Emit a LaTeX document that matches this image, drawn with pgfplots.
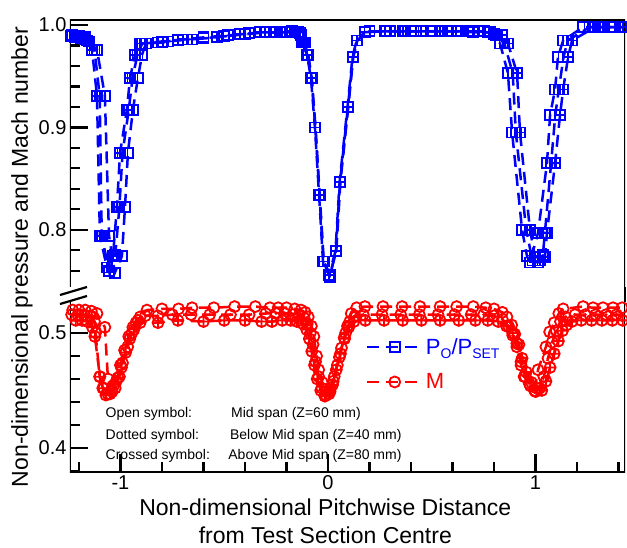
\documentclass[border=0pt]{standalone}
\usepackage{fontspec}
\setmainfont{Liberation Sans}
\usepackage{pgfplots}
\pgfplotsset{compat=1.18}

\pgfdeclareplotmark{boxplus}{%
 \pgfpathrectangle{\pgfpoint{-\pgfplotmarksize}{-\pgfplotmarksize}}{\pgfpoint{2\pgfplotmarksize}{2\pgfplotmarksize}}%
 \pgfpathmoveto{\pgfpoint{-\pgfplotmarksize}{0pt}}\pgfpathlineto{\pgfpoint{\pgfplotmarksize}{0pt}}%
 \pgfpathmoveto{\pgfpoint{0pt}{-\pgfplotmarksize}}\pgfpathlineto{\pgfpoint{0pt}{\pgfplotmarksize}}%
 \pgfusepathqstroke}
\pgfdeclareplotmark{boxdot}{%
 \pgfpathrectangle{\pgfpoint{-\pgfplotmarksize}{-\pgfplotmarksize}}{\pgfpoint{2\pgfplotmarksize}{2\pgfplotmarksize}}%
 \pgfusepathqstroke
 \pgfpathcircle{\pgfpointorigin}{0.3\pgfplotmarksize}\pgfusepathqfill}
\pgfdeclareplotmark{odot}{%
 \pgfpathcircle{\pgfpointorigin}{\pgfplotmarksize}\pgfusepathqstroke
 \pgfpathcircle{\pgfpointorigin}{0.3\pgfplotmarksize}\pgfusepathqfill}

\pgfplotsset{
 common/.style={width=555pt, scale only axis, xmin=-1.243, xmax=1.431,
   axis line style={draw=none}, tick style={black, line width=2.2pt},
   major tick length=18pt, minor tick length=10pt,
   ytick pos=left, xtick pos=bottom, tick align=inside,
   ticklabel style={font=\fontsize{20}{24}\selectfont},
   /pgf/number format/assume math mode=true},
 bl/.style={blue, line width=2.5pt, dash pattern=on 12pt off 7pt, mark size=5pt, mark options={solid, line width=1.8pt}},
 rd/.style={red, line width=2.5pt, dash pattern=on 12pt off 7pt, mark size=5.5pt, mark options={solid, line width=1.8pt}},
}

\begin{document}
\begin{tikzpicture}
\path[use as bounding box] (-70pt,-75pt) rectangle (557pt,472pt);

% ---------------- upper axis (total pressure) ----------------
\begin{axis}[common, at={(0pt,185pt)}, anchor=south west, height=267pt,
  ymin=0.744, ymax=1.005, ytick={0.8,0.9,1.0},
  minor ytick={0.76,0.78,0.82,0.84,0.86,0.88,0.92,0.94,0.96,0.98},
  xtick=\empty,
  yticklabel style={/pgf/number format/.cd, fixed, fixed zerofill, precision=1}]
\addplot[bl, mark=square] coordinates {
(-1.234,0.990) (-1.20,0.989) (-1.17,0.988) (-1.15,0.984) (-1.113,0.976) (-1.075,0.931)
(-1.055,0.794) (-1.027,0.758) (-0.993,0.774) (-0.978,0.822) (-0.964,0.875) (-0.940,0.917)
(-0.916,0.948) (-0.896,0.971) (-0.877,0.982) (-0.80,0.983) (-0.72,0.985) (-0.60,0.987)
(-0.50,0.989) (-0.40,0.991) (-0.30,0.993) (-0.22,0.993) (-0.16,0.993) (-0.13,0.990)
(-0.11,0.983) (-0.095,0.971) (-0.078,0.948) (-0.060,0.900) (-0.040,0.834) (-0.020,0.769)
(0.010,0.756) (0.040,0.779) (0.060,0.847) (0.098,0.920) (0.122,0.969) (0.142,0.985)
(0.18,0.993) (0.28,0.994) (0.37,0.994) (0.46,0.994) (0.55,0.994) (0.62,0.994) (0.70,0.993)
(0.77,0.993) (0.80,0.991) (0.829,0.982) (0.867,0.953) (0.887,0.895) (0.935,0.800)
(0.959,0.774) (0.973,0.768) (1.012,0.797) (1.055,0.865) (1.070,0.912) (1.094,0.937)
(1.108,0.969) (1.133,0.985) (1.229,0.998) (1.30,0.998) (1.37,0.998) (1.43,0.998)};
\addplot[bl, mark=boxdot] coordinates {
(-1.24,0.989) (-1.21,0.988) (-1.18,0.987) (-1.16,0.985) (-1.125,0.976) (-1.100,0.931)
(-1.090,0.794) (-1.055,0.760) (-1.025,0.775) (-1.005,0.822) (-0.990,0.875) (-0.960,0.917)
(-0.942,0.948) (-0.918,0.971) (-0.895,0.982) (-0.80,0.984) (-0.70,0.986) (-0.60,0.988)
(-0.48,0.990) (-0.38,0.992) (-0.26,0.993) (-0.175,0.994) (-0.135,0.992) (-0.115,0.983)
(-0.098,0.971) (-0.080,0.948) (-0.061,0.900) (-0.041,0.834) (-0.022,0.769) (0.008,0.754)
(0.038,0.779) (0.058,0.847) (0.096,0.920) (0.120,0.969) (0.140,0.985) (0.20,0.994)
(0.30,0.994) (0.40,0.994) (0.50,0.994) (0.58,0.994) (0.68,0.994) (0.75,0.994) (0.81,0.990)
(0.850,0.982) (0.890,0.953) (0.905,0.895) (0.955,0.800) (0.985,0.770) (1.010,0.768)
(1.035,0.775) (1.045,0.797) (1.075,0.865) (1.095,0.912) (1.112,0.937) (1.135,0.969)
(1.155,0.985) (1.26,0.998) (1.32,0.998) (1.36,0.998) (1.41,0.998) (1.44,0.998)};
\addplot[bl, mark=boxplus] coordinates {
(-1.245,0.989) (-1.22,0.988) (-1.19,0.987) (-1.171,0.986) (-1.137,0.976) (-1.113,0.931)
(-1.099,0.794) (-1.065,0.763) (-1.036,0.774) (-1.017,0.822) (-1.002,0.875) (-0.969,0.917)
(-0.954,0.948) (-0.930,0.971) (-0.906,0.982) (-0.819,0.983) (-0.771,0.984) (-0.723,0.986)
(-0.655,0.986) (-0.535,0.988) (-0.424,0.991) (-0.328,0.993) (-0.23,0.993) (-0.198,0.993)
(-0.145,0.993) (-0.125,0.983) (-0.101,0.971) (-0.082,0.948) (-0.063,0.900) (-0.043,0.834)
(-0.024,0.769) (0.005,0.756) (0.036,0.779) (0.056,0.847) (0.094,0.920) (0.118,0.969)
(0.138,0.985) (0.176,0.993) (0.275,0.994) (0.36,0.994) (0.45,0.994) (0.54,0.994)
(0.64,0.994) (0.72,0.994) (0.78,0.993) (0.84,0.990) (0.867,0.982) (0.911,0.953)
(0.925,0.895) (0.973,0.800) (0.998,0.773) (1.020,0.770) (1.045,0.773) (1.055,0.797)
(1.094,0.865) (1.118,0.912) (1.133,0.937) (1.157,0.969) (1.176,0.985) (1.287,0.998)
(1.33,0.998) (1.38,0.998) (1.42,0.998)};
\draw[line width=2.5pt] (rel axis cs:0,0) -- (rel axis cs:0,1) -- (rel axis cs:1,1) -- (rel axis cs:1,0);
\end{axis}

% ---------------- lower axis (Mach number) ----------------
\begin{axis}[common, at={(0pt,0pt)}, anchor=south west, height=170pt,
  ymin=0.379, ymax=0.527, ytick={0.4,0.5},
  minor ytick={0.38,0.42,0.44,0.46,0.48,0.52},
  xtick={-1,0,1},
  minor xtick={-1.2,-0.8,-0.6,-0.4,-0.2,0.2,0.4,0.6,0.8,1.2,1.4},
  yticklabel style={/pgf/number format/.cd, fixed, fixed zerofill, precision=1},
  xticklabel style={/pgf/number format/.cd, fixed, precision=0},
  xlabel={Non-dimensional Pitchwise Distance\\from Test Section Centre},
  xlabel style={at={(axis description cs:0.46,0)}, anchor=north, yshift=-23pt,
    align=center, font=\fontsize{23}{28}\selectfont},
  legend style={at={(rel axis cs:0.532,0.80)}, anchor=north west, draw=none, fill=none,
    font=\fontsize{22}{26}\selectfont, row sep=14pt, inner sep=0pt},
  legend cell align=left,
  legend image code/.code={\draw[mark repeat=2, mark phase=2] plot coordinates {(0pt,0pt) (28pt,0pt) (56pt,0pt)};}]
\addplot[rd, mark=o, forget plot] coordinates {
(-1.23,0.520) (-1.20,0.520) (-1.17,0.520) (-1.14,0.519) (-1.113,0.517) (-1.075,0.505)
(-1.060,0.460) (-1.045,0.450) (-1.025,0.452) (-1.005,0.462) (-0.990,0.474) (-0.965,0.488)
(-0.945,0.500) (-0.925,0.509) (-0.905,0.514) (-0.872,0.520) (-0.80,0.521) (-0.72,0.521)
(-0.655,0.522) (-0.55,0.522) (-0.45,0.523) (-0.35,0.523) (-0.28,0.522) (-0.24,0.522)
(-0.20,0.522) (-0.16,0.521) (-0.13,0.520) (-0.11,0.518) (-0.095,0.514) (-0.080,0.506)
(-0.068,0.497) (-0.055,0.480) (-0.045,0.468) (-0.028,0.457) (-0.008,0.449) (0.012,0.452)
(0.030,0.462) (0.055,0.479) (0.078,0.496) (0.094,0.506) (0.112,0.517) (0.138,0.522)
(0.178,0.523) (0.265,0.523) (0.357,0.523) (0.443,0.523) (0.540,0.523) (0.62,0.523)
(0.70,0.523) (0.76,0.522) (0.80,0.521) (0.84,0.518) (0.862,0.514) (0.885,0.507)
(0.900,0.499) (0.920,0.490) (0.930,0.472) (0.945,0.462) (0.970,0.456) (0.995,0.450)
(1.012,0.468) (1.050,0.488) (1.068,0.501) (1.090,0.509) (1.112,0.517) (1.133,0.521)
(1.229,0.523) (1.277,0.522) (1.325,0.522) (1.373,0.522) (1.417,0.522)};
\addplot[rd, mark=odot, forget plot] coordinates {
(-1.235,0.516) (-1.205,0.516) (-1.175,0.516) (-1.145,0.515) (-1.125,0.510) (-1.120,0.500)
(-1.100,0.462) (-1.080,0.452) (-1.060,0.447) (-1.040,0.449) (-1.020,0.458) (-1.000,0.472)
(-0.980,0.485) (-0.960,0.497) (-0.940,0.505) (-0.915,0.511) (-0.88,0.515) (-0.82,0.515)
(-0.75,0.516) (-0.66,0.516) (-0.57,0.516) (-0.47,0.516) (-0.38,0.516) (-0.30,0.517)
(-0.25,0.517) (-0.21,0.517) (-0.17,0.516) (-0.14,0.515) (-0.115,0.513) (-0.100,0.508)
(-0.085,0.500) (-0.072,0.490) (-0.060,0.475) (-0.045,0.462) (-0.030,0.452) (-0.010,0.446)
(0.010,0.449) (0.025,0.458) (0.045,0.472) (0.065,0.487) (0.085,0.500) (0.105,0.510)
(0.130,0.515) (0.17,0.516) (0.26,0.516) (0.35,0.516) (0.44,0.516) (0.53,0.516) (0.61,0.516)
(0.69,0.516) (0.75,0.516) (0.80,0.515) (0.84,0.512) (0.87,0.506) (0.89,0.498) (0.91,0.488)
(0.93,0.475) (0.95,0.462) (0.975,0.454) (1.000,0.449) (1.020,0.452) (1.040,0.462)
(1.060,0.478) (1.080,0.492) (1.100,0.502) (1.120,0.510) (1.145,0.514) (1.19,0.516)
(1.24,0.516) (1.29,0.516) (1.34,0.516) (1.39,0.516) (1.44,0.516)};
\addplot[rd, mark=oplus, forget plot] coordinates {
(-1.245,0.511) (-1.215,0.511) (-1.185,0.511) (-1.16,0.510) (-1.135,0.505) (-1.123,0.497)
(-1.099,0.462) (-1.085,0.452) (-1.07,0.446) (-1.05,0.447) (-1.03,0.455) (-1.012,0.461)
(-0.995,0.470) (-0.975,0.483) (-0.955,0.495) (-0.935,0.503) (-0.905,0.509) (-0.819,0.509)
(-0.723,0.511) (-0.60,0.510) (-0.50,0.511) (-0.40,0.511) (-0.32,0.510) (-0.27,0.510)
(-0.22,0.511) (-0.18,0.511) (-0.15,0.510) (-0.12,0.508) (-0.103,0.503) (-0.090,0.495)
(-0.078,0.484) (-0.065,0.472) (-0.052,0.460) (-0.035,0.450) (-0.015,0.445) (0.005,0.447)
(0.022,0.455) (0.040,0.468) (0.060,0.482) (0.080,0.495) (0.100,0.505) (0.125,0.510)
(0.18,0.511) (0.27,0.511) (0.36,0.511) (0.45,0.511) (0.54,0.511) (0.63,0.511) (0.71,0.511)
(0.77,0.511) (0.82,0.510) (0.86,0.506) (0.89,0.500) (0.91,0.491) (0.935,0.478)
(0.955,0.466) (0.980,0.457) (1.005,0.452) (1.030,0.450) (1.050,0.458) (1.070,0.470)
(1.090,0.482) (1.110,0.493) (1.130,0.502) (1.150,0.507) (1.175,0.510) (1.22,0.511)
(1.27,0.511) (1.32,0.511) (1.37,0.511) (1.42,0.511)};
\addlegendimage{bl, mark=square}
\addlegendentry{\textcolor{blue}{P\raisebox{-0.4ex}{\fontsize{14}{14}\selectfont O}/P\raisebox{-0.4ex}{\fontsize{14}{14}\selectfont SET}}}
\addlegendimage{rd, mark=o}
\addlegendentry{\textcolor{red}{M}}
\draw[line width=2.5pt] (rel axis cs:0,1) -- (rel axis cs:0,0) -- (rel axis cs:1,0) -- (rel axis cs:1,1);
\node[anchor=base west, font=\fontsize{14}{16}\selectfont] at (axis description cs:0.058,0.318) {Open symbol:};
\node[anchor=base west, font=\fontsize{14}{16}\selectfont] at (axis description cs:0.284,0.318) {Mid span (Z=60 mm)};
\node[anchor=base west, font=\fontsize{14}{16}\selectfont] at (axis description cs:0.058,0.194) {Dotted symbol:};
\node[anchor=base west, font=\fontsize{14}{16}\selectfont] at (axis description cs:0.282,0.194) {Below Mid span (Z=40 mm)};
\node[anchor=base west, font=\fontsize{14}{16}\selectfont] at (axis description cs:0.058,0.076) {Crossed symbol:};
\node[anchor=base west, font=\fontsize{14}{16}\selectfont] at (axis description cs:0.279,0.076) {Above Mid span (Z=80 mm)};
\end{axis}

% right border across the break and the break marks on the left axis
\draw[line width=2.5pt] (555pt,170pt) -- (555pt,185pt);
\draw[line width=2.2pt] (-10pt,168pt) -- (17pt,176pt);
\draw[line width=2.2pt] (-10pt,177pt) -- (17pt,185pt);

\node[rotate=90, font=\fontsize{23}{27}\selectfont] at (-48pt,215pt) {Non-dimensional pressure and Mach number};
\end{tikzpicture}
\end{document}
